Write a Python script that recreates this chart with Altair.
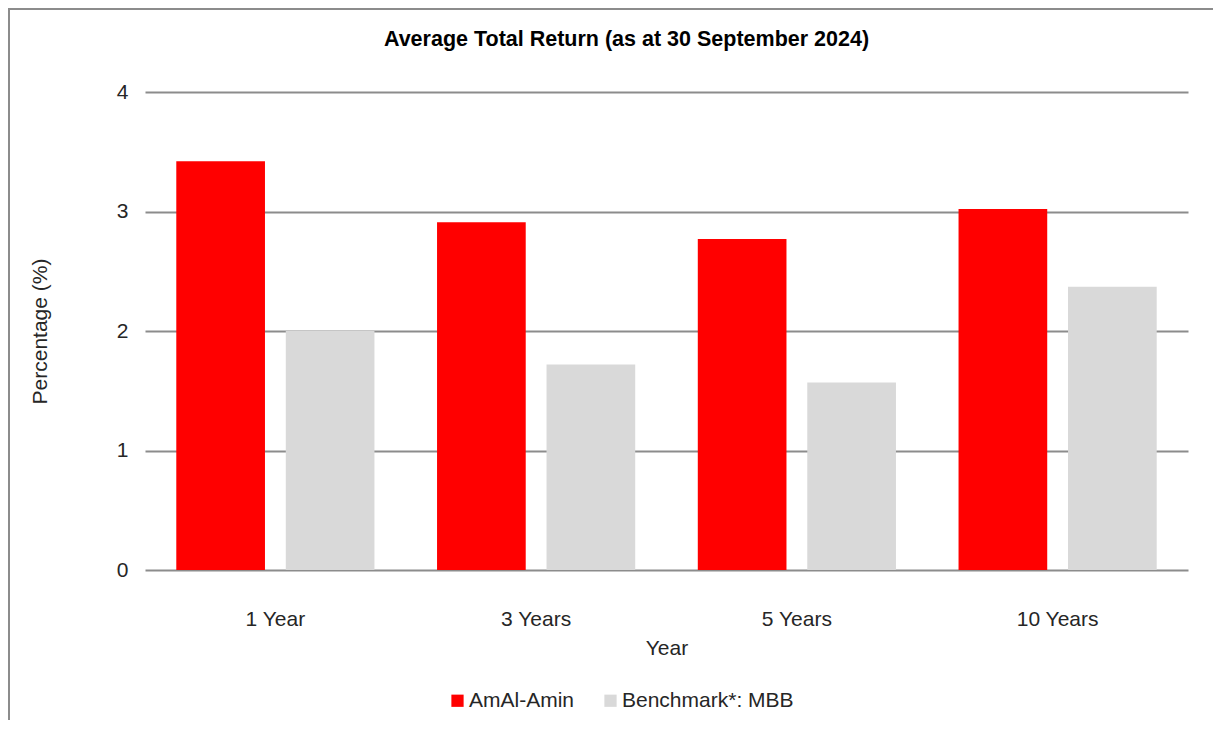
import altair as alt
import pandas as pd

categories = ["1 Year", "3 Years", "5 Years", "10 Years"]
series_names = ["AmAl-Amin", "Benchmark*: MBB"]
amin_values = [3.42, 2.91, 2.77, 3.02]
bench_values = [2.00, 1.72, 1.57, 2.37]
y_ticks = [0, 1, 2, 3, 4]
colors = ["#ff0000", "#d9d9d9"]

rows = []
for c, a, b in zip(categories, amin_values, bench_values):
    rows.append({"Year": c, "Series": series_names[0], "Value": a})
    rows.append({"Year": c, "Series": series_names[1], "Value": b})
df = pd.DataFrame(rows)

FONT = "Liberation Sans"
TXT = "#262626"

bars = alt.Chart(df).mark_bar().encode(
    x=alt.X("Year:N", sort=categories,
            scale=alt.Scale(paddingInner=0.24, paddingOuter=0.12),
            axis=alt.Axis(title="Year", labelAngle=0, ticks=False, domain=False,
                          labelPadding=38, labelFontSize=21, titleFontSize=21,
                          labelFont=FONT, titleFont=FONT, labelColor=TXT, titleColor=TXT,
                          titleFontWeight="normal", titleY=78, titleBaseline="middle")),
    xOffset=alt.XOffset("Series:N", sort=series_names,
                        scale=alt.Scale(paddingInner=0.19, paddingOuter=0)),
    y=alt.Y("Value:Q", scale=alt.Scale(domain=[0, 4], nice=False),
            axis=alt.Axis(title="Percentage (%)", values=y_ticks, ticks=False, domain=False,
                          labelPadding=17, labelFontSize=21, titleFontSize=21,
                          labelFont=FONT, titleFont=FONT, labelColor=TXT, titleColor=TXT,
                          titleFontWeight="normal", gridColor="#8c8c8c", gridWidth=2,
                          titleX=-105, titleY=239, titleBaseline="middle", titleAlign="center")),
    color=alt.Color("Series:N", sort=series_names,
                    scale=alt.Scale(domain=series_names, range=colors),
                    legend=alt.Legend(title=None, orient="none", direction="horizontal",
                                      legendX=302, legendY=598, symbolType="square",
                                      symbolSize=150, symbolStrokeWidth=0, labelFontSize=21,
                                      labelFont=FONT, labelColor=TXT, labelOffset=1,
                                      labelLimit=0, columnPadding=25, padding=0)),
)

frame = alt.Chart(alt.Data(values=[{}])).mark_rect(
    fillOpacity=0, stroke="#8c8c8c", strokeWidth=2
).encode(
    x=alt.value(-136), x2=alt.value(1300), y=alt.value(-83), y2=alt.value(800)
)

chart = alt.layer(bars, frame).properties(
    width=1043,
    height=478,
    autosize=alt.AutoSizeParams(type="none"),
    padding={"left": 137, "top": 84, "right": 25, "bottom": 150},
    title=alt.TitleParams("Average Total Return (as at 30 September 2024)", font=FONT,
                          fontSize=21.5, fontWeight="bold", color="#000000",
                          anchor="middle", frame="group", baseline="middle",
                          offset=51, dx=-40, dy=104),
).configure_view(stroke=None)

chart.save("out.html", embed_options={"renderer": "svg", "actions": False})
